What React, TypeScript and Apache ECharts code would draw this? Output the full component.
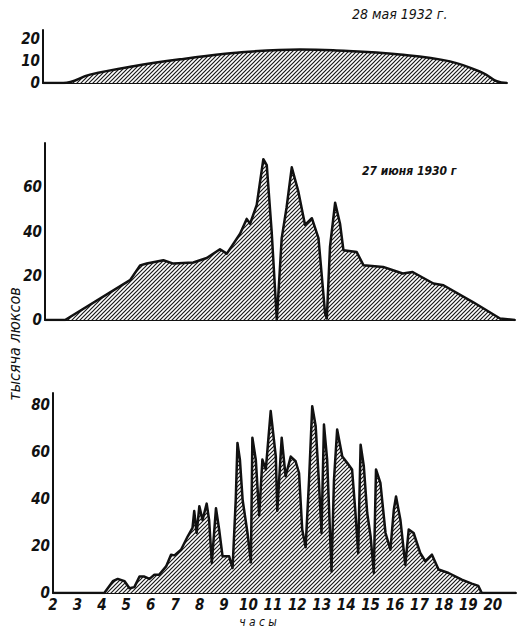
import React, { useEffect, useRef } from "react";
import * as echarts from "echarts";

const FONT = '"DejaVu Sans Condensed", "DejaVu Sans", sans-serif';

// 28 мая 1932 г. (top panel)
const mayHours = [2.0, 2.83, 3.92, 5.69, 7.73, 9.77, 12.49, 13.85, 16.57, 18.61, 19.97, 20.52, 20.94];
const mayValues = [0, 0, 3.8, 7.6, 10.9, 13.6, 15.2, 14.8, 12.9, 9.8, 4.5, 0.8, 0];

// 27 июня 1930 г (middle panel)
const juneHours = [2.0, 2.82, 5.47, 5.88, 6.15, 6.83, 7.24, 8.05, 8.6, 9.14, 9.42, 9.96, 10.23, 10.37, 10.64, 10.91, 11.05, 11.25, 11.46, 11.66, 11.86, 12.07, 12.34, 12.61, 12.89, 13.16, 13.43, 13.5, 13.63, 13.84, 14.04, 14.18, 14.72, 15.0, 15.8, 16.6, 17.0, 17.85, 18.26, 19.48, 20.57, 21.18];
const juneValues = [0, 0, 18, 24.7, 25.5, 27, 25.5, 26, 28, 32, 30, 39, 45.7, 43.5, 52, 72.7, 70, 40, 0, 37, 51, 69, 58, 43, 46, 37, 3, 0.7, 33, 53, 43.5, 31.5, 30.7, 24.7, 24, 21, 21.7, 16.5, 15.7, 8, 0.7, 0];

// bottom panel (variable cloudiness)
const cloudHours = [2.0, 4.1, 4.45, 4.65, 4.93, 5.13, 5.33, 5.54, 5.74, 5.95, 6.15, 6.35, 6.63, 6.83, 6.97, 7.24, 7.51, 7.71, 7.78, 7.88, 7.99, 8.12, 8.29, 8.39, 8.5, 8.67, 8.8, 8.94, 9.21, 9.35, 9.48, 9.55, 9.65, 9.76, 9.96, 10.1, 10.16, 10.3, 10.44, 10.57, 10.71, 10.91, 11.12, 11.18, 11.36, 11.52, 11.73, 11.93, 12.07, 12.2, 12.34, 12.48, 12.61, 12.75, 12.88, 12.99, 13.09, 13.22, 13.4, 13.5, 13.63, 13.84, 14.04, 14.24, 14.38, 14.49, 14.59, 14.72, 14.86, 15.0, 15.13, 15.22, 15.4, 15.61, 15.81, 15.95, 16.04, 16.22, 16.42, 16.56, 16.76, 17.03, 17.24, 17.51, 17.78, 18.19, 18.73, 19.14, 19.41, 19.55, 20.95];
const cloudValues = [0, 0, 5, 6, 5, 2, 2.5, 7, 7, 6, 7.8, 7.8, 11.3, 16.3, 16, 18.4, 24, 27.7, 34.8, 25.5, 36.9, 31, 38, 31, 12.8, 36, 27, 15.6, 15.6, 10.6, 39.7, 63.8, 56.7, 39.7, 25.5, 13, 66, 56.7, 33, 56.7, 52.5, 77.3, 58, 35, 66, 49.6, 58, 56, 51, 27, 19.5, 48, 79.4, 71, 48, 25.5, 71.6, 56.7, 9.2, 48, 69.5, 58, 55.3, 52.5, 34, 17, 63, 54, 34, 24, 8.5, 52.5, 46.8, 25.5, 18.4, 35.5, 41, 31, 12, 27, 25.5, 17, 13.5, 16.3, 10, 8.5, 5.7, 4, 3, 0, 0];

const hourTicks = [2, 3, 4, 5, 6, 7, 8, 9, 10, 11, 12, 13, 14, 15, 16, 17, 18, 19, 20];

const titleTop = "28 мая 1932 г.";
const titleMiddle = "27 июня 1930 г";
const yTitle = "тысяча люксов";
const xTitle = "ч а с ы";

function zip(a: number[], b: number[]) {
  const n = Math.min(a.length, b.length);
  const out: number[][] = [];
  for (let i = 0; i < n; i++) out.push([a[i], b[i]]);
  return out;
}

function makeHatch() {
  const c = document.createElement("canvas");
  c.width = 4;
  c.height = 4;
  const g = c.getContext("2d")!;
  g.fillStyle = "#ffffff";
  g.fillRect(0, 0, 4, 4);
  g.strokeStyle = "#1a1a1a";
  g.lineWidth = 1.2;
  g.beginPath();
  g.moveTo(0, 4);
  g.lineTo(4, 0);
  g.moveTo(-1, 1);
  g.lineTo(1, -1);
  g.moveTo(3, 5);
  g.lineTo(5, 3);
  g.stroke();
  return c;
}

export default function App() {
  const ref = useRef<HTMLDivElement>(null);
  useEffect(() => {
    document.body.style.margin = "0";
    if (!ref.current) return;
    const chart = echarts.init(ref.current, null, { renderer: "svg" });
    const hatch = makeHatch();
    const axisLine = { show: true, lineStyle: { color: "#111", width: 2 } };
    const labelStyle = {
      fontFamily: FONT,
      fontStyle: "italic" as const,
      fontWeight: "bold" as const,
      fontSize: 15,
      color: "#111",
    };
    const plainX = (idx: number, max: number) => ({
      type: "value",
      gridIndex: idx,
      min: 2,
      max,
      axisLine,
      axisTick: { show: false },
      axisLabel: { show: false },
      splitLine: { show: false },
    });
    const yAx = (idx: number, max: number, interval: number, maxLabel: number) => ({
      type: "value",
      gridIndex: idx,
      min: 0,
      max,
      interval,
      axisLine,
      axisTick: { show: false },
      splitLine: { show: false },
      axisLabel: {
        ...labelStyle,
        margin: 3,
        formatter: (v: number) => (v % interval === 0 && v <= maxLabel ? String(v) : ""),
      },
    });
    const series = (idx: number, data: number[][], smooth: number | boolean) => ({
      type: "line",
      xAxisIndex: idx,
      yAxisIndex: idx,
      data,
      smooth,
      showSymbol: false,
      symbol: "none",
      lineStyle: { color: "#111", width: 2.5, join: "round" },
      areaStyle: { color: { image: hatch, repeat: "repeat" }, opacity: 1 },
      z: 1,
    });
    chart.setOption({
      animation: false,
      backgroundColor: "#ffffff",
      grid: [
        { left: 43, top: 30, width: 464, height: 53 },
        { left: 45, top: 143, width: 470, height: 177 },
        { left: 53, top: 393, width: 464, height: 200 },
      ],
      xAxis: [
        plainX(0, 20.94),
        plainX(1, 21.18),
        {
          type: "value",
          gridIndex: 2,
          min: 2,
          max: 20.95,
          interval: 1,
          axisLine,
          axisTick: { show: false },
          splitLine: { show: false },
          axisLabel: {
            ...labelStyle,
            margin: 4,
            formatter: (v: number) => (hourTicks.indexOf(v) >= 0 ? String(v) : ""),
          },
        },
      ],
      yAxis: [yAx(0, 24, 10, 20), yAx(1, 80, 20, 60), yAx(2, 85, 20, 80)],
      series: [
        series(0, zip(mayHours, mayValues), 0.4),
        series(1, zip(juneHours, juneValues), false),
        series(2, zip(cloudHours, cloudValues), false),
      ],
      graphic: [
        {
          type: "text",
          left: 352,
          top: 7,
          style: { text: titleTop, font: `italic 14px ${FONT}`, fill: "#111" },
        },
        {
          type: "text",
          left: 362,
          top: 165,
          style: { text: titleMiddle, font: `italic bold 12px ${FONT}`, fill: "#111" },
        },
        {
          type: "text",
          x: 14,
          y: 344,
          rotation: Math.PI / 2,
          style: {
            text: yTitle,
            font: `italic 16px ${FONT}`,
            fill: "#111",
            align: "center",
            verticalAlign: "middle",
          },
        },
        {
          type: "text",
          x: 258,
          y: 622,
          style: {
            text: xTitle,
            font: `italic 12px ${FONT}`,
            fill: "#111",
            align: "center",
            verticalAlign: "middle",
          },
        },
      ],
    });
    return () => chart.dispose();
  }, []);
  return <div ref={ref} style={{ width: 519, height: 628 }} />;
}
